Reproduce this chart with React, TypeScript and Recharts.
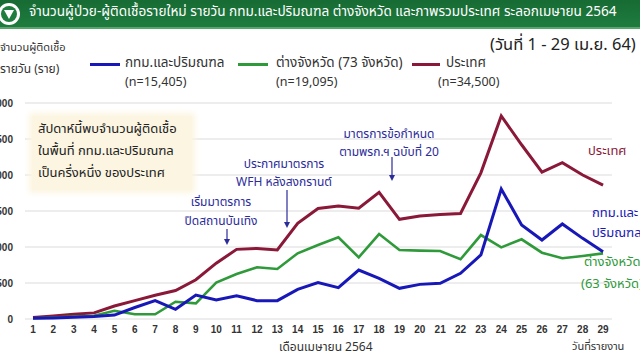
import React from "react";
import { LineChart, Line, XAxis, YAxis, CartesianGrid } from "recharts";

const days = [1, 2, 3, 4, 5, 6, 7, 8, 9, 10, 11, 12, 13, 14, 15, 16, 17, 18, 19, 20, 21, 22, 23, 24, 25, 26, 27, 28, 29];
const bangkok = [10, 15, 25, 35, 55, 160, 255, 135, 333, 264, 322, 255, 255, 412, 505, 435, 680, 565, 426, 481, 495, 634, 890, 1806, 1306, 1097, 1320, 1120, 935];
const provinces = [10, 20, 35, 45, 115, 65, 65, 240, 218, 505, 625, 718, 695, 912, 1028, 1134, 856, 1180, 958, 949, 944, 829, 1166, 995, 1107, 921, 843, 875, 912];
const country = [20, 40, 65, 85, 180, 255, 330, 395, 545, 775, 967, 980, 960, 1330, 1535, 1570, 1540, 1760, 1385, 1430, 1450, 1465, 2030, 2820, 2420, 2040, 2170, 2000, 1860];
const yTicks = [0, 500, 1000, 1500, 2000, 2500, 3000];

const data = days.map((d, i) => ({ day: d, bkk: bangkok[i], prov: provinces[i], all: country[i] }));

const BLUE = "#1818b8";
const GREEN = "#2f9a3a";
const RED = "#8a1838";
const NAVY = "#2b2b9a";
const FONT = "'Noto Sans Thai', 'Loma', 'Garuda', Tahoma, 'Noto Sans', sans-serif";

const abs = (x: number, y: number, extra: React.CSSProperties = {}): React.CSSProperties => ({
  position: "absolute",
  left: x,
  top: y,
  whiteSpace: "nowrap",
  fontFamily: FONT,
  lineHeight: 1,
  ...extra,
});

export default function App() {
  return (
    <div style={{ position: "absolute", left: 0, top: 0, width: 640, height: 360, overflow: "hidden", background: "#fff", fontFamily: FONT }}>
      <div style={{ position: "absolute", left: 0, top: 0, width: 640, height: 28, background: "linear-gradient(#176b34, #1f7d3f)" }} />
      <div style={{ position: "absolute", left: 0, top: 27, width: 640, height: 2, background: "#5aa56e" }} />
      <svg style={{ position: "absolute", left: 0, top: 0 }} width={30} height={30}>
        <circle cx={9} cy={14} r={11} fill="#fff" />
        <circle cx={9} cy={14} r={8} fill="#1f7d3f" />
        <path d="M4 10 L9 19 L14 10 Z" fill="#fff" />
      </svg>
      <div style={abs(29, 6, { color: "#fff", fontSize: 13.6 })}>
        จำนวนผู้ป่วย-ผู้ติดเชื้อรายใหม่ รายวัน กทม.และปริมณฑล ต่างจังหวัด และภาพรวมประเทศ ระลอกเมษายน 2564
      </div>

      <LineChart
        width={640}
        height={360}
        data={data}
        margin={{ top: 103, right: 28, bottom: 21, left: 0 }}
        style={{ position: "absolute", left: 0, top: 0 }}
      >
        <CartesianGrid horizontal vertical={false} stroke="#dcdcdc" strokeWidth={1.2} />
        <XAxis
          dataKey="day"
          type="number"
          domain={[0.607, 29.44]}
          ticks={days}
          interval={0}
          axisLine={false}
          tickLine={false}
          tickSize={0}
          tickMargin={7}
          height={20}
          tick={{ fontSize: 10, fontWeight: 700, fill: "#333", fontFamily: "'Liberation Sans', Arial, sans-serif" }}
        />
        <YAxis
          domain={[0, 3000]}
          ticks={yTicks}
          width={25}
          axisLine={false}
          tickLine={false}
          tickSize={0}
          tickMargin={12}
          tickFormatter={(v: number) => v.toLocaleString("en-US")}
          tick={{ fontSize: 10, fontWeight: 700, fill: "#333", fontFamily: "'Liberation Sans', Arial, sans-serif" }}
        />
        <Line dataKey="all" stroke={RED} strokeWidth={3} dot={false} isAnimationActive={false} />
        <Line dataKey="prov" stroke={GREEN} strokeWidth={2.6} dot={false} isAnimationActive={false} />
        <Line dataKey="bkk" stroke={BLUE} strokeWidth={3} dot={false} isAnimationActive={false} />
      </LineChart>

      {/* top-left axis title */}
      <div style={abs(0, 42, { fontSize: 11, color: "#333" })}>จำนวนผู้ติดเชื้อ</div>
      <div style={abs(0, 63, { fontSize: 12, color: "#333" })}>รายวัน (ราย)</div>
      <div style={abs(490, 37, { fontSize: 16.5, color: "#222" })}>(วันที่ 1 - 29 เม.ย. 64)</div>

      {/* legend */}
      <div style={{ position: "absolute", left: 90, top: 63, width: 30, height: 3, background: BLUE }} />
      <div style={abs(125, 57, { fontSize: 13.5, color: "#333" })}>กทม.และปริมณฑล</div>
      <div style={abs(125, 77, { fontSize: 12.5, color: "#333" })}>(n=15,405)</div>
      <div style={{ position: "absolute", left: 238, top: 63, width: 30, height: 3, background: GREEN }} />
      <div style={abs(276, 57, { fontSize: 13.5, color: "#333" })}>ต่างจังหวัด (73 จังหวัด)</div>
      <div style={abs(276, 77, { fontSize: 12.5, color: "#333" })}>(n=19,095)</div>
      <div style={{ position: "absolute", left: 412, top: 63, width: 28, height: 3, background: RED }} />
      <div style={abs(446, 57, { fontSize: 13.5, color: "#333" })}>ประเทศ</div>
      <div style={abs(438, 77, { fontSize: 12.5, color: "#333" })}>(n=34,500)</div>

      {/* note box */}
      <div style={{ position: "absolute", left: 32, top: 116, width: 160, height: 74, background: "#fbf5e1", boxShadow: "0 0 6px 3px #fbf5e1" }} />
      <div style={abs(38, 123, { fontSize: 13, color: "#222" })}>สัปดาห์นี้พบจำนวนผู้ติดเชื้อ</div>
      <div style={abs(38, 145, { fontSize: 13, color: "#222" })}>ในพื้นที่ กทม.และปริมณฑล</div>
      <div style={abs(38, 167, { fontSize: 13, color: "#222" })}>เป็นครึ่งหนึ่ง ของประเทศ</div>

      {/* annotations */}
      <div style={abs(186, 196, { fontSize: 12, color: NAVY, width: 70, textAlign: "center" })}>เริ่มมาตรการ</div>
      <div style={abs(176, 215, { fontSize: 12, color: NAVY, width: 90, textAlign: "center" })}>ปิดสถานบันเทิง</div>
      <div style={abs(234, 158, { fontSize: 12, color: NAVY, width: 100, textAlign: "center" })}>ประกาศมาตรการ</div>
      <div style={abs(229, 176, { fontSize: 12, color: NAVY, width: 110, textAlign: "center" })}>WFH หลังสงกรานต์</div>
      <div style={abs(334, 128, { fontSize: 12, color: NAVY, width: 110, textAlign: "center" })}>มาตรการข้อกำหนด</div>
      <div style={abs(329, 146, { fontSize: 12, color: NAVY, width: 120, textAlign: "center" })}>ตามพรก.ฯ ฉบับที่ 20</div>
      <svg style={{ position: "absolute", left: 0, top: 0, pointerEvents: "none" }} width={640} height={360}>
        <g stroke={NAVY} strokeWidth={1.2} fill={NAVY}>
          <line x1={227} y1={229} x2={227} y2={240} />
          <path d="M224 239 L230 239 L227 245 Z" stroke="none" />
          <line x1={287} y1={190} x2={287} y2={223} />
          <path d="M284 222 L290 222 L287 228 Z" stroke="none" />
          <line x1={392} y1={157} x2={392} y2={176} />
          <path d="M389 175 L395 175 L392 181 Z" stroke="none" />
        </g>
      </svg>

      {/* right labels */}
      <div style={abs(588, 145, { fontSize: 13, color: RED })}>ประเทศ</div>
      <div style={abs(592, 207, { fontSize: 13, color: BLUE })}>กทม.และ</div>
      <div style={abs(592, 227, { fontSize: 13, color: BLUE })}>ปริมณฑล</div>
      <div style={abs(584, 256, { fontSize: 13, color: GREEN })}>ต่างจังหวัด</div>
      <div style={abs(581, 278, { fontSize: 13, color: GREEN })}>(63 จังหวัด)</div>

      {/* x axis titles */}
      <div style={abs(279, 341, { fontSize: 12, color: "#333" })}>เดือนเมษายน 2564</div>
      <div style={abs(572, 341, { fontSize: 11, color: "#333" })}>วันที่รายงาน</div>
    </div>
  );
}
